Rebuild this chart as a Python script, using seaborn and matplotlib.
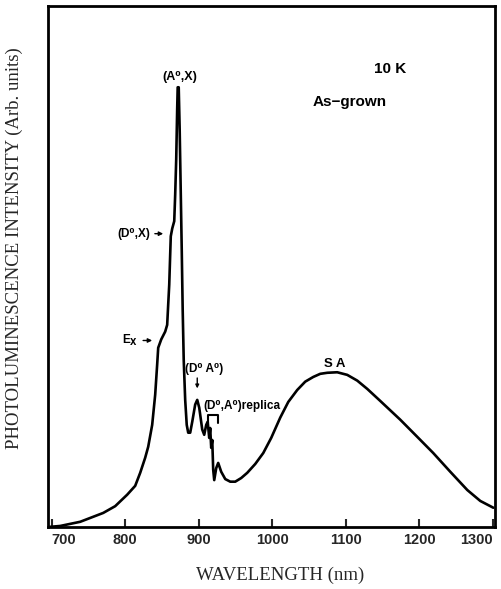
import matplotlib
matplotlib.use("Agg")
import matplotlib.pyplot as plt
import seaborn as sns
import pandas as pd

# ---- data ----
wavelength_nm = [695.2, 711.6, 738.8, 770.1, 786.4, 802.7, 813.6, 820.4, 827.2, 831.3,
                 836.7, 840.8, 843.5, 844.9, 849.0, 854.4, 857.1, 858.5, 859.9, 861.2,
                 862.0, 864.0, 866.7, 868.0, 869.4, 870.7, 871.4, 872.8, 874.1, 875.5,
                 876.9, 878.2, 879.6, 881.6, 883.7, 885.7, 888.4, 891.2, 895.2, 898.0,
                 900.7, 904.8, 907.5, 910.2, 912.2, 914.3, 915.6, 917.0, 918.4, 919.7,
                 921.1, 923.8, 926.5, 930.6, 936.1, 942.9, 949.7, 957.8, 966.0, 976.9,
                 987.8, 998.6, 1010.9, 1021.8, 1034.0, 1044.9, 1055.8, 1065.3, 1074.8, 1088.4,
                 1102.0, 1115.6, 1129.3, 1146.9, 1174.1, 1197.3, 1219.0, 1242.2, 1265.3, 1283.0,
                 1300.7]
intensity = [0.0, 0.2, 1.0, 2.7, 4.0, 6.2, 7.9, 10.4, 13.3, 15.4,
             19.6, 25.4, 31.2, 34.4, 36.0, 37.5, 38.8, 42.7, 46.5, 52.3,
             55.8, 57.3, 58.7, 63.8, 70.6, 80.2, 84.4, 84.4, 76.3, 64.8,
             53.3, 41.7, 32.1, 24.4, 19.6, 18.1, 18.1, 20.2, 23.5, 24.4,
             22.9, 18.7, 17.7, 19.6, 20.2, 17.1, 19.0, 15.2, 16.7, 11.0,
             9.0, 11.3, 12.3, 10.6, 9.2, 8.7, 8.7, 9.4, 10.4, 12.1,
             14.2, 17.1, 21.0, 24.0, 26.3, 27.9, 28.8, 29.4, 29.6, 29.7,
             29.2, 28.1, 26.5, 24.2, 20.6, 17.3, 14.2, 10.6, 7.1, 5.0,
             3.7]
xtick_values = [700, 800, 900, 1000, 1100, 1200, 1300]
xtick_labels = ["700", "800", "900", "1000", "1100", "1200", "1300"]

df = pd.DataFrame({"wavelength": wavelength_nm, "intensity": intensity})

sns.set_style("white")
plt.rcParams["font.family"] = ["Liberation Sans", "DejaVu Sans"]

fig = plt.figure(figsize=(5.02, 5.89), dpi=100)
ax = fig.add_axes([48 / 502, 62 / 589, 447 / 502, 521 / 589])

sns.lineplot(data=df, x="wavelength", y="intensity", sort=False, estimator=None,
             color="black", linewidth=1.9, ax=ax)

ax.set_xlim(695, 1303)
ax.set_ylim(0, 100)
ax.set_xticks(xtick_values)
ax.set_xticklabels(xtick_labels, fontsize=10.5, fontweight="bold")
tl = ax.get_xticklabels()
tl[0].set_ha("left")
tl[-1].set_ha("right")
ax.set_yticks([])
ax.tick_params(axis="x", direction="in", length=6, width=1.5, pad=4, bottom=True)
for s in ax.spines.values():
    s.set_visible(True)
    s.set_color("black")
    s.set_linewidth(2)

serif = ["Liberation Serif", "DejaVu Serif"]
ax.set_xlabel("WAVELENGTH (nm)", fontsize=13.5, family=serif)
ax.set_ylabel("PHOTOLUMINESCENCE INTENSITY (Arb. units)", fontsize=13.5, family=serif)
ax.xaxis.set_label_coords((280 - 48) / 447, -(567 - 527) / 521)
ax.yaxis.set_label_coords(-(48 - 23) / 447, (527 - 248) / 521)

bold = dict(fontweight="bold", color="black")
ax.text(874.8, 86.3, "(A⁰,X)", ha="center", va="center", fontsize=9, **bold)
ax.text(1160.5, 87.9, "10 K", ha="center", va="center", fontsize=11, **bold)
ax.text(1104.8, 81.5, "As\u2212grown", ha="center", va="center", fontsize=11, **bold)
ax.text(1084.4, 31.2, "S A", ha="center", va="center", fontsize=9.5, **bold)

ax.annotate("(D⁰,X)", xy=(851.7, 56.3), xytext=(834, 56.3), ha="right", va="center",
            fontsize=8.5, arrowprops=dict(arrowstyle="-|>", lw=1, color="black",
                                          mutation_scale=6, shrinkA=1, shrinkB=0), **bold)
ax.annotate("E$_\\mathbf{X}$", xy=(836.7, 35.8), xytext=(818, 35.8), ha="right", va="center",
            fontsize=8.5, arrowprops=dict(arrowstyle="-|>", lw=1, color="black",
                                          mutation_scale=6, shrinkA=1, shrinkB=0), **bold)
ax.text(907.5, 30.4, "(D⁰ A⁰)", ha="center", va="center", fontsize=8.5, **bold)
ax.annotate("", xy=(898, 26.6), xytext=(898, 28.6),
            arrowprops=dict(arrowstyle="-|>", lw=1, color="black",
                            mutation_scale=5, shrinkA=0, shrinkB=0))
ax.text(906, 23.3, "(D⁰,A⁰)replica", ha="left", va="center", fontsize=8.5, **bold)
ax.plot([912.9, 912.9, 926.5, 926.5], [20.0, 21.5, 21.5, 20.0], color="black", lw=1.5)

fig.savefig("out.png", dpi=100)
